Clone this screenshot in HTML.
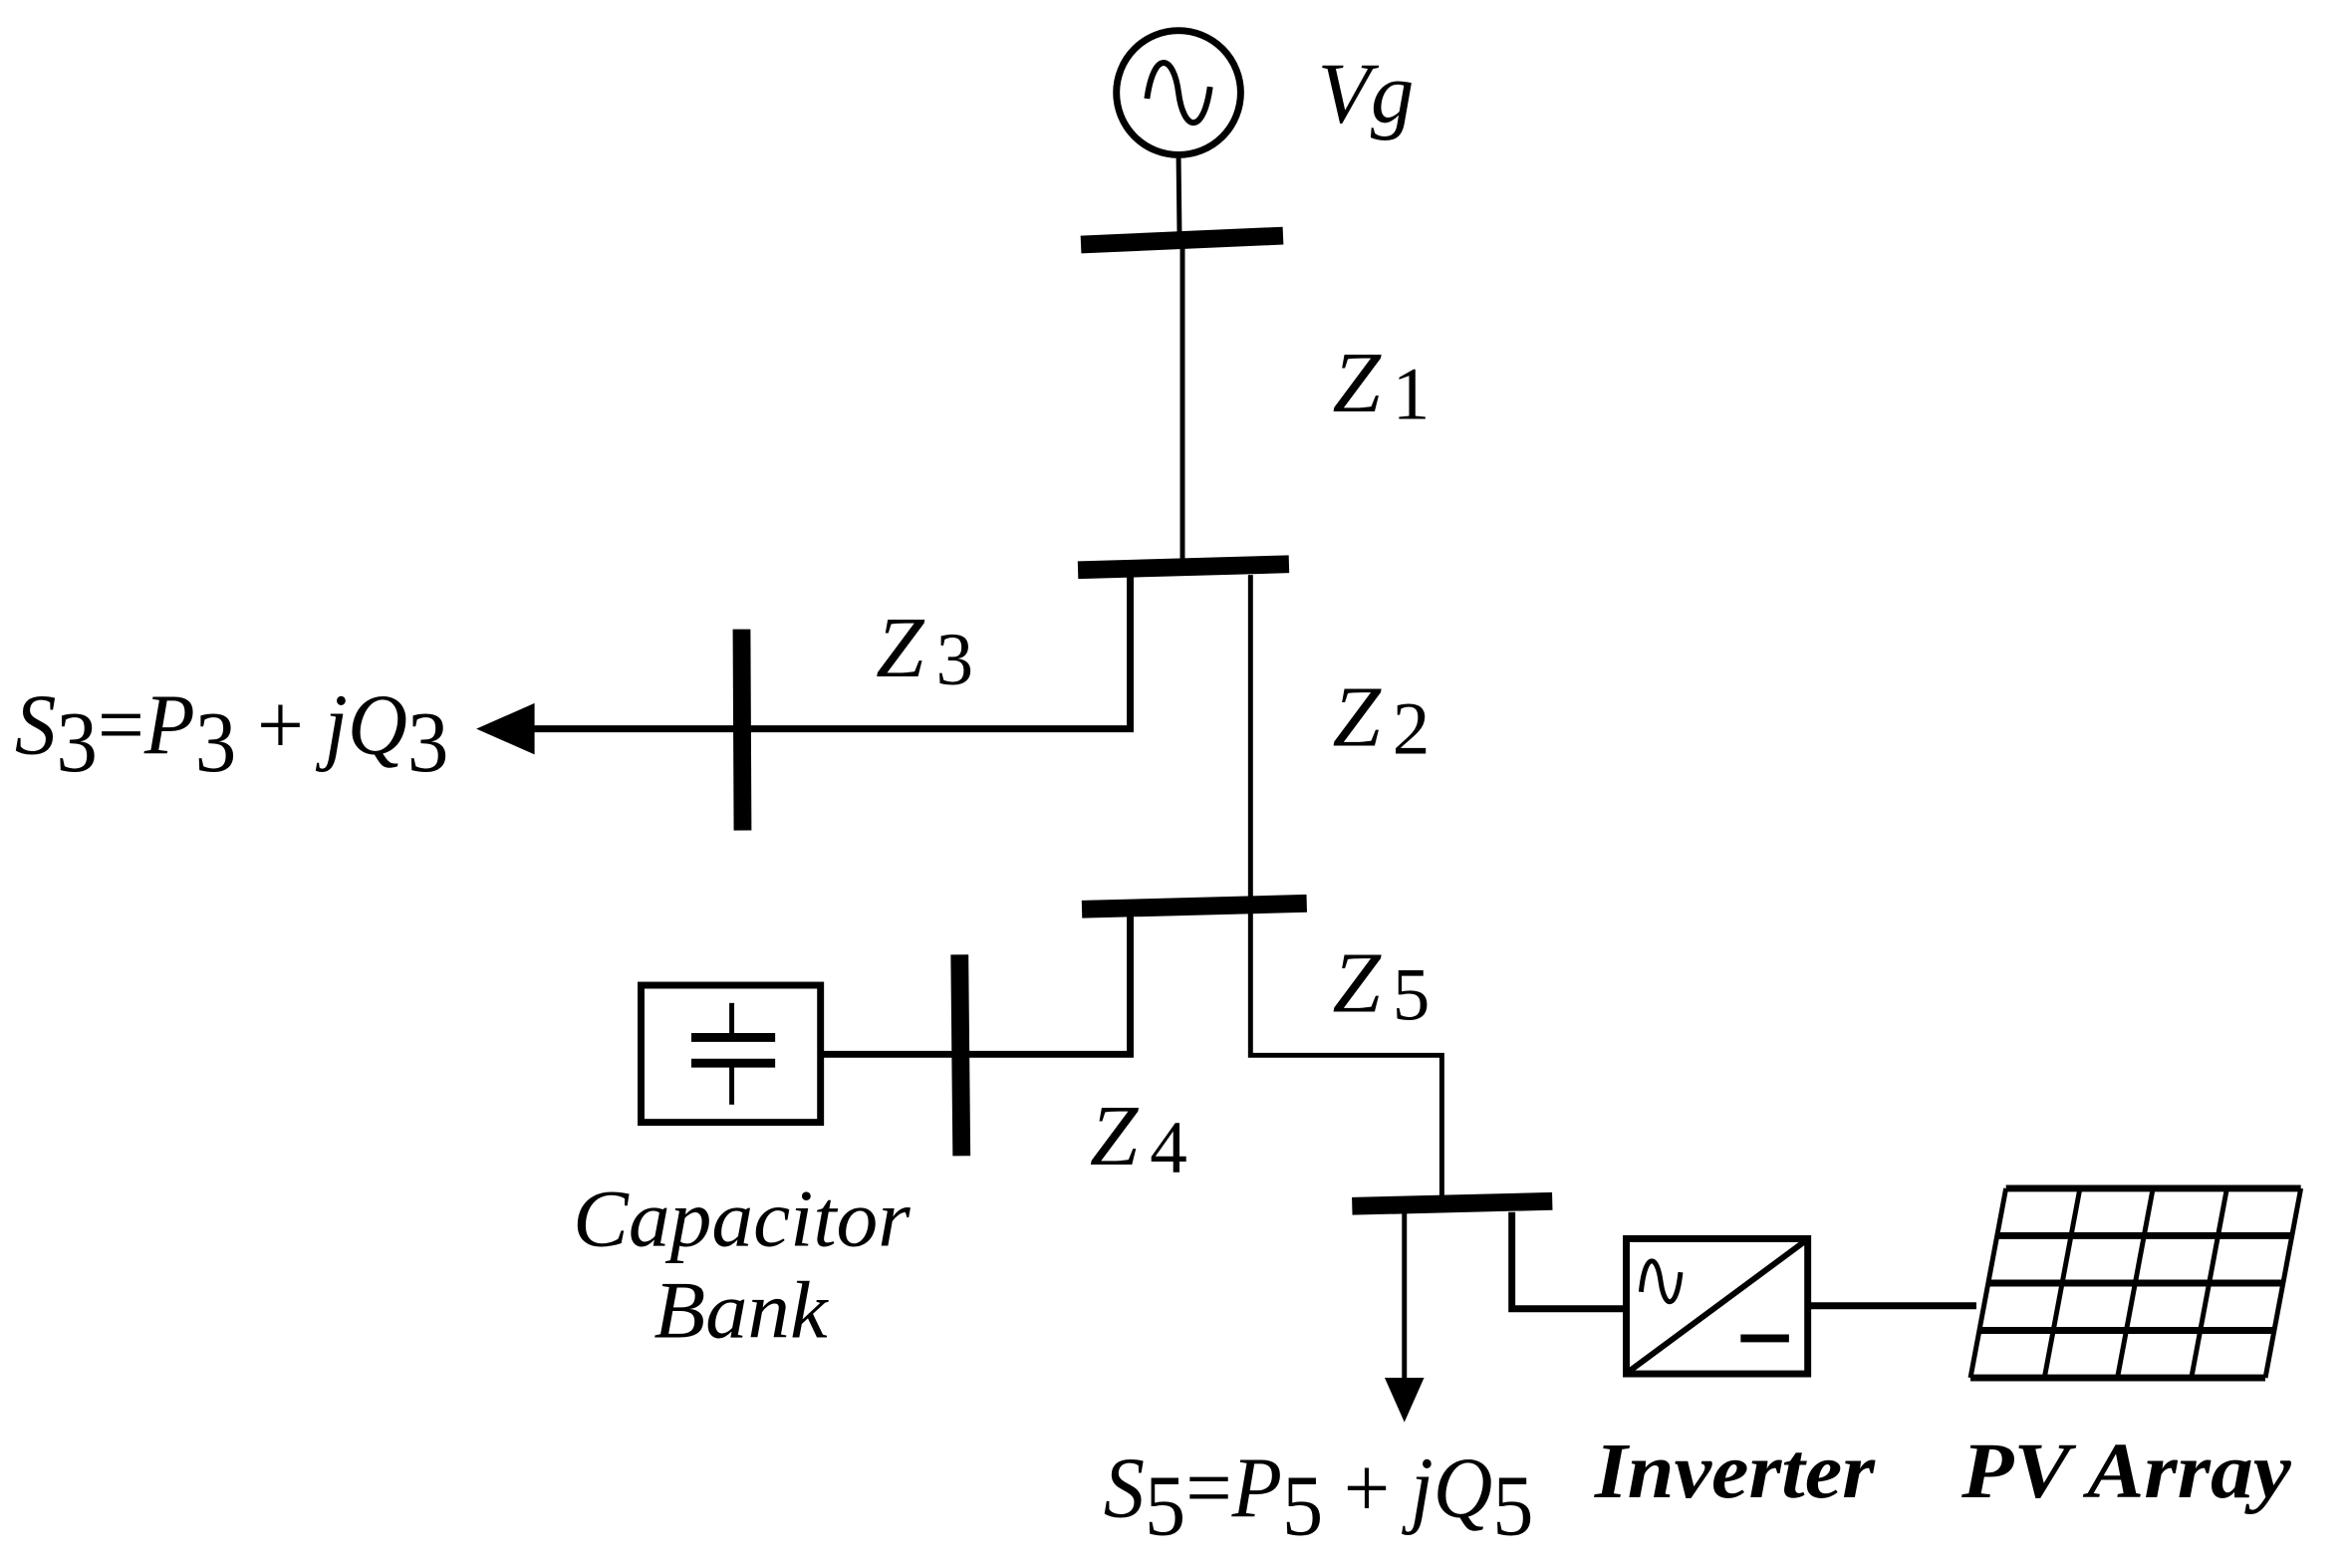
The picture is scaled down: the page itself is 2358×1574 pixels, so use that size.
<!DOCTYPE html>
<html><head><style>html,body{margin:0;padding:0;background:#fff}svg{display:block}text{font-family:"Liberation Serif","Times New Roman",serif}</style></head>
<body>
<svg width="2358" height="1574" viewBox="0 0 2358 1574" xmlns="http://www.w3.org/2000/svg">
<g transform="scale(0.99,0.99)">
<g stroke="#000" fill="none" stroke-linecap="butt">
<circle cx="1195" cy="94" r="63" stroke-width="7"/>
<path d="M1163 100 C1170 50,1190 55,1195 94 C1200 133,1220 138,1227 88" stroke-width="6"/>
<line x1="1195" y1="157" x2="1196" y2="242" stroke-width="5"/>
<line x1="1096" y1="248" x2="1301" y2="239" stroke-width="18"/>
<line x1="1199" y1="247" x2="1199" y2="574" stroke-width="5"/>
<line x1="1093" y1="578" x2="1307" y2="572" stroke-width="18"/>
<polyline points="1146,583 1146,739 530,739" stroke-width="7"/>
<line x1="1268" y1="583" x2="1268" y2="915" stroke-width="5"/>
<line x1="752" y1="638" x2="753" y2="842" stroke-width="18"/>
<line x1="1097" y1="922" x2="1325" y2="916" stroke-width="18"/>
<polyline points="1146,926 1146,1069 832,1069" stroke-width="7"/>
<polyline points="1268,926 1268,1070 1462,1070 1462,1216" stroke-width="5"/>
<line x1="973" y1="968" x2="975" y2="1172" stroke-width="18"/>
<rect x="650" y="999" width="182" height="139" stroke-width="7"/>
<line x1="701" y1="1052" x2="786" y2="1052" stroke-width="9"/>
<line x1="701" y1="1078" x2="786" y2="1078" stroke-width="9"/>
<line x1="742" y1="1017" x2="742" y2="1052" stroke-width="5"/>
<line x1="742" y1="1078" x2="742" y2="1120" stroke-width="5"/>
<line x1="1371" y1="1223" x2="1574" y2="1218" stroke-width="18"/>
<line x1="1424" y1="1229" x2="1424" y2="1400" stroke-width="5"/>
<polyline points="1533,1229 1533,1327 1647,1327" stroke-width="7"/>
<rect x="1649" y="1256" width="184" height="137" stroke-width="7"/>
<line x1="1651" y1="1391" x2="1831" y2="1258" stroke-width="6"/>
<path d="M1664 1310 C1668 1270,1680 1270,1684 1300 C1688 1328,1700 1328,1704 1290" stroke-width="5"/>
<line x1="1765" y1="1357" x2="1814" y2="1357" stroke-width="8"/>
<line x1="1833" y1="1324" x2="2004" y2="1324" stroke-width="7"/>
<g stroke-width="7">
<line x1="2034" y1="1205" x2="2333" y2="1205"/>
<line x1="2025" y1="1253" x2="2324" y2="1253"/>
<line x1="2016" y1="1301" x2="2315" y2="1301"/>
<line x1="2007" y1="1349" x2="2306" y2="1349"/>
<line x1="1998" y1="1397" x2="2297" y2="1397"/>
</g>
<g stroke-width="5">
<line x1="2034" y1="1205" x2="1998" y2="1397"/>
<line x1="2109" y1="1205" x2="2073" y2="1397"/>
<line x1="2183" y1="1205" x2="2147" y2="1397"/>
<line x1="2258" y1="1205" x2="2222" y2="1397"/>
<line x1="2333" y1="1205" x2="2297" y2="1397"/>
</g>
</g>
<polygon points="483,739 542,713 542,765" fill="#000"/>
<polygon points="1404,1397 1444,1397 1424,1442" fill="#000"/>
<g font-size="88" fill="#000">
<text x="1336" y="124" font-style="italic">Vg</text>
<text x="1351" y="417" font-style="italic">Z<tspan font-style="normal" font-size="76" dx="12" dy="8">1</tspan></text>
<text x="1351" y="756" font-style="italic">Z<tspan font-style="normal" font-size="76" dx="12" dy="8">2</tspan></text>
<text x="888" y="686" font-style="italic">Z<tspan font-style="normal" font-size="76" dx="12" dy="8">3</tspan></text>
<text x="1105" y="1181" font-style="italic">Z<tspan font-style="normal" font-size="76" dx="12" dy="8">4</tspan></text>
<text x="1351" y="1026" font-style="italic">Z<tspan font-style="normal" font-size="76" dx="12" dy="8">5</tspan></text>
<text x="15" y="764" font-style="italic" textLength="440" lengthAdjust="spacingAndGlyphs">S<tspan font-style="normal" dy="18">3</tspan><tspan font-style="normal" dy="-18">=</tspan>P<tspan font-style="normal" dy="18">3</tspan><tspan font-style="normal" dy="-18"> + </tspan>jQ<tspan font-style="normal" dy="18">3</tspan></text>
<text x="1119" y="1538" font-style="italic" textLength="436" lengthAdjust="spacingAndGlyphs">S<tspan font-style="normal" dy="18">5</tspan><tspan font-style="normal" dy="-18">=</tspan>P<tspan font-style="normal" dy="18">5</tspan><tspan font-style="normal" dy="-18"> + </tspan>jQ<tspan font-style="normal" dy="18">5</tspan></text>
<text x="581" y="1263" font-style="italic" font-size="82" textLength="342" lengthAdjust="spacingAndGlyphs">Capacitor</text>
<text x="663" y="1356" font-style="italic" font-size="82" textLength="176" lengthAdjust="spacingAndGlyphs">Bank</text>
<text x="1617" y="1518" font-style="italic" font-weight="bold" font-size="80" textLength="284" lengthAdjust="spacingAndGlyphs">Inverter</text>
<text x="1989" y="1518" font-style="italic" font-weight="bold" font-size="80" textLength="334" lengthAdjust="spacingAndGlyphs">PV Array</text>
</g>
</g>
</svg>
</body></html>
